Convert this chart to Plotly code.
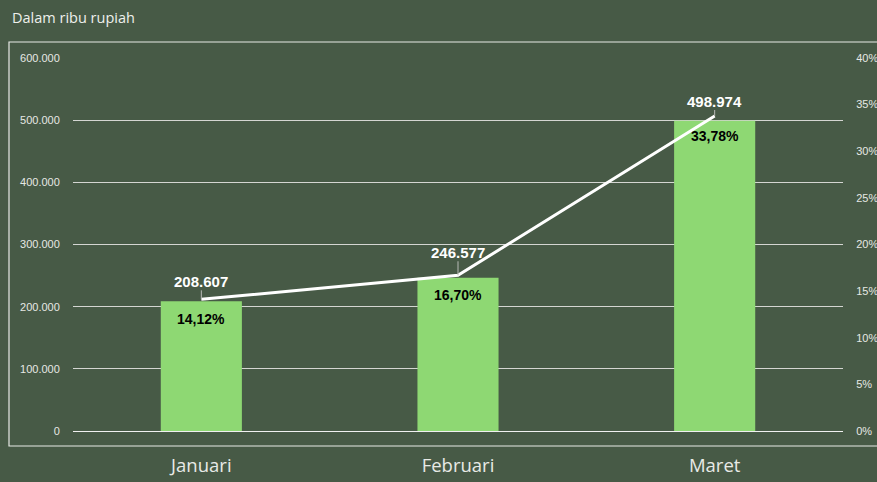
import plotly.graph_objects as go

# Monthly figures (in thousand rupiah) and their share in percent
months = ["Januari", "Februari", "Maret"]
amounts = [208607, 246577, 498974]
shares = [14.12, 16.70, 33.78]

BG = "#475a46"
BAR = "#8ed873"
GRID = "#d4d6d2"
TICK = "#e6e8e4"

fig = go.Figure()

fig.add_trace(go.Bar(
    x=months, y=amounts,
    marker=dict(color=BAR, line=dict(width=0)),
    hoverinfo="skip",
    yaxis="y",
))

fig.add_trace(go.Scatter(
    x=months, y=[s / 100 for s in shares],
    mode="lines",
    line=dict(color="white", width=3),
    hoverinfo="skip",
    yaxis="y2",
))

# value labels above each line point, with a short leader line
value_shift = [-18, -23, -15]
for m, a, s, dy in zip(months, amounts, shares, value_shift):
    fig.add_annotation(
        x=m, y=s / 100, xref="x", yref="y2",
        text="<b>" + f"{a:,}".replace(",", ".") + "</b>",
        showarrow=True, arrowhead=0, arrowwidth=1, arrowcolor="#b8bab6",
        ax=0, ay=dy, standoff=0, borderpad=0,
        font=dict(family="Liberation Sans, Arial", size=15, color="white"),
    )
    fig.add_annotation(
        x=m, y=s / 100, xref="x", yref="y2",
        text="<b>" + f"{s:.2f}".replace(".", ",") + "%</b>",
        showarrow=False, yshift=-20,
        font=dict(family="Liberation Sans, Arial", size=14, color="black"),
    )

# outer frame around the chart area
fig.add_shape(
    type="rect", xref="paper", yref="paper",
    x0=(9 - 73) / 770, x1=(885 - 73) / 770,
    y0=(431 - 446) / 373, y1=(431 - 42) / 373,
    line=dict(color="#e8eae6", width=1.2), fillcolor="rgba(0,0,0,0)",
    layer="below",
)

fig.update_layout(
    width=877, height=482,
    margin=dict(l=73, r=34, t=58, b=51, autoexpand=False),
    paper_bgcolor=BG, plot_bgcolor=BG,
    separators=",.",
    showlegend=False,
    bargap=0.684,
    title=dict(
        text="Dalam ribu rupiah",
        x=12 / 877, xanchor="left", xref="container",
        y=1 - 18 / 482, yanchor="middle", yref="container",
        font=dict(family="Open Sans", size=14.5, color="#eef0ec"),
    ),
    xaxis=dict(
        automargin=False,
        showgrid=False, zeroline=False, showline=False,
        ticks="outside", ticklen=18, tickcolor="rgba(0,0,0,0)",
        tickfont=dict(family="Open Sans", size=18.5, color="#e8eae6"),
    ),
    yaxis=dict(
        automargin=False,
        range=[0, 600000], dtick=100000, tickformat=",d",
        showgrid=True, gridcolor=GRID, gridwidth=1,
        zeroline=True, zerolinecolor="#f0f0f0", zerolinewidth=1,
        showline=False,
        ticks="outside", ticklen=10, tickcolor="rgba(0,0,0,0)",
        tickfont=dict(family="Liberation Sans, Arial", size=11, color=TICK),
    ),
    yaxis2=dict(
        automargin=False,
        range=[0, 0.4], dtick=0.05, tickformat=".0%",
        overlaying="y", side="right",
        showgrid=False, zeroline=False, showline=False,
        ticks="outside", ticklen=10, tickcolor="rgba(0,0,0,0)",
        tickfont=dict(family="Liberation Sans, Arial", size=11, color=TICK),
    ),
)

fig.write_html("out.html")
